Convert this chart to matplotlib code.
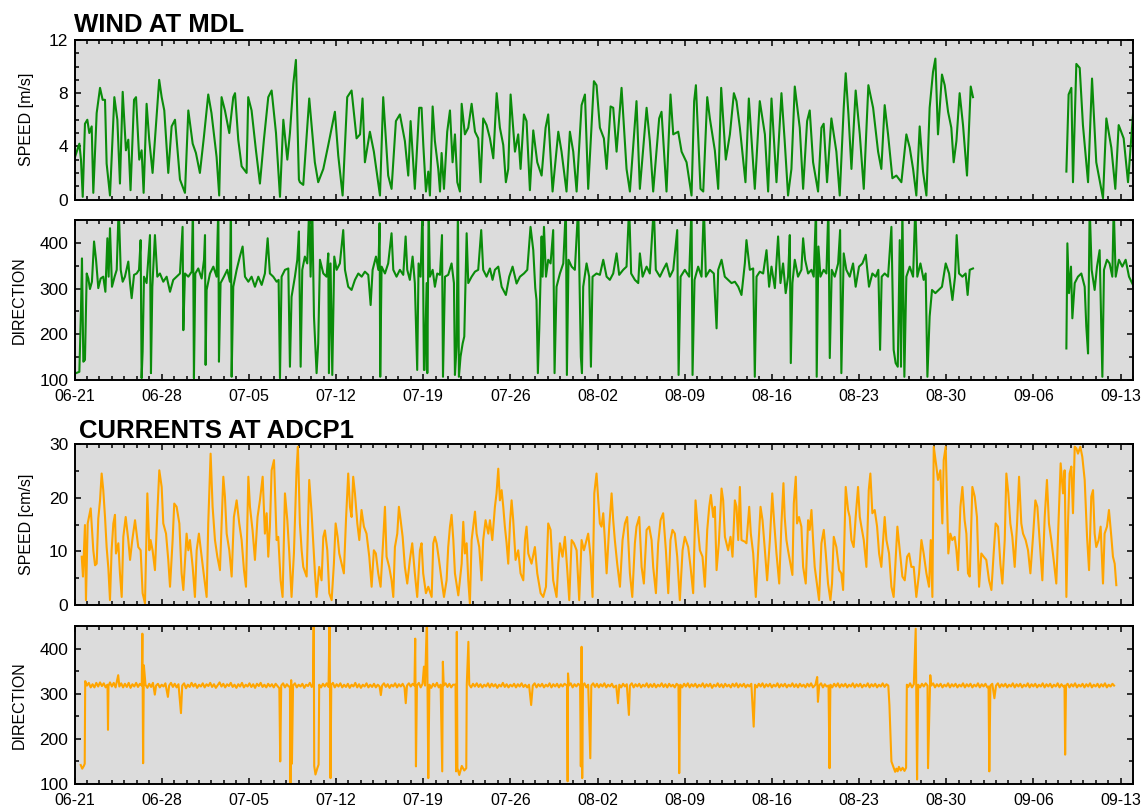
import numpy as np
import matplotlib
matplotlib.use("Agg")
import matplotlib.pyplot as plt
from matplotlib.ticker import MultipleLocator, FixedLocator, FixedFormatter

plt.rcParams['font.family'] = ['Liberation Sans', 'DejaVu Sans']

# ---------------- data (time in days since 06-21 00:00, value) ----------------
tick_days = [0, 7, 14, 21, 28, 35, 42, 49, 56, 63, 70, 77, 84]
tick_labels = ['06-21', '06-28', '07-05', '07-12', '07-19', '07-26', '08-02',
               '08-09', '08-16', '08-23', '08-30', '09-06', '09-13']

NAN = float('nan')

wind_speed = [
    (0.04, 3.2), (0.39, 4.2), (0.52, 3.0), (0.66, 0.2), (0.84, 5.7), (1.03, 6.0), (1.19, 5.0),
    (1.38, 5.5), (1.51, 0.5), (1.78, 6.5), (2.05, 8.4), (2.26, 7.5), (2.45, 7.5), (2.58, 2.7),
    (2.85, 0.3), (3.2, 7.7), (3.44, 6.0), (3.65, 1.2), (3.87, 8.1), (4.13, 3.7), (4.32, 4.5),
    (4.5, 0.7), (4.78, 7.5), (4.94, 7.7), (5.2, 3.0), (5.39, 3.7), (5.55, 0.5), (5.79, 7.2),
    (6.0, 4.5), (6.27, 2.0), (6.46, 4.5), (6.8, 9.0), (7.0, 7.7), (7.21, 6.7), (7.53, 2.0),
    (7.8, 5.5), (8.07, 6.0), (8.47, 1.5), (8.87, 0.5), (9.14, 6.7), (9.49, 4.2), (9.75, 3.5),
    (10.07, 2.0), (10.39, 4.7), (10.74, 7.9), (11.0, 6.5), (11.41, 3.2), (11.62, 0.3), (11.81, 7.7),
    (12.08, 6.7), (12.43, 5.0), (12.75, 7.7), (12.89, 8.0), (13.15, 4.5), (13.42, 2.5), (13.82, 2.0),
    (13.95, 7.7), (14.22, 6.7), (14.57, 3.7), (14.89, 1.2), (15.21, 4.5), (15.56, 7.7), (15.83, 8.2),
    (16.18, 5.0), (16.5, 0.2), (16.77, 6.0), (17.09, 3.0), (17.3, 5.0), (17.57, 8.7), (17.78, 10.5),
    (18.02, 1.5), (18.1, 1.3), (18.37, 1.1), (18.85, 7.6), (19.3, 2.8), (19.57, 1.3), (19.98, 2.3),
    (20.38, 4.1), (20.91, 6.6), (21.18, 3.3), (21.53, 0.3), (21.9, 7.7), (22.25, 8.2), (22.65, 4.6),
    (22.93, 4.9), (23.13, 7.6), (23.32, 2.8), (23.72, 5.1), (24.04, 3.6), (24.53, 0.3), (24.79, 7.7),
    (25.19, 1.8), (25.46, 0.8), (25.81, 5.9), (26.13, 6.4), (26.53, 4.4), (26.8, 1.8), (26.99, 5.9),
    (27.33, 0.8), (27.68, 6.9), (27.87, 6.9), (28.01, 4.1), (28.22, 0.6), (28.41, 2.1), (28.54, 0.3),
    (28.76, 7.0), (28.94, 4.4), (29.21, 2.3), (29.35, 0.6), (29.48, 3.5), (29.67, 0.8), (29.93, 5.1),
    (30.15, 6.7), (30.36, 2.8), (30.55, 4.9), (30.74, 1.3), (30.95, 0.6), (31.09, 7.2), (31.35, 4.9),
    (31.62, 5.4), (31.89, 7.2), (32.16, 5.1), (32.42, 4.6), (32.61, 1.3), (32.82, 6.1), (33.09, 5.6),
    (33.36, 4.6), (33.63, 3.1), (33.9, 8.0), (34.16, 5.4), (34.43, 4.1), (34.64, 1.3), (34.83, 2.3),
    (35.02, 7.9), (35.37, 3.6), (35.63, 4.9), (35.82, 2.3), (36.09, 6.4), (36.3, 5.9), (36.57, 0.7),
    (36.84, 5.2), (37.16, 2.8), (37.51, 1.8), (37.83, 5.4), (38.04, 6.4), (38.39, 0.6), (38.85, 5.1),
    (39.11, 3.6), (39.51, 0.6), (39.78, 5.1), (40.05, 3.6), (40.32, 0.6), (40.72, 7.1), (40.99, 7.9),
    (41.25, 0.8), (41.71, 8.9), (41.92, 8.6), (42.19, 5.4), (42.51, 4.6), (42.73, 2.3), (43.05, 7.0),
    (43.26, 6.9), (43.53, 3.6), (43.93, 8.4), (44.33, 2.3), (44.6, 0.6), (45.13, 7.4), (45.4, 0.8),
    (45.94, 6.9), (46.2, 4.4), (46.47, 0.6), (46.95, 6.1), (47.14, 6.6), (47.54, 0.6), (47.86, 7.9),
    (48.08, 4.9), (48.48, 5.1), (48.75, 3.6), (49.15, 2.8), (49.55, 0.3), (49.76, 7.4), (49.9, 8.6),
    (50.27, 0.8), (50.49, 0.6), (50.81, 7.7), (51.02, 6.1), (51.42, 3.7), (51.69, 0.8), (51.93, 8.4),
    (52.3, 3.0), (52.63, 4.9), (52.95, 8.0), (53.16, 7.4), (53.43, 5.4), (53.88, 1.3), (54.15, 7.6),
    (54.63, 0.8), (55.03, 7.4), (55.44, 4.9), (55.7, 0.6), (55.97, 7.6), (56.37, 1.3), (56.77, 8.0),
    (57.03, 4.4), (57.3, 0.3), (57.57, 2.3), (57.84, 8.5), (58.24, 5.4), (58.51, 0.8), (58.83, 5.9),
    (59.04, 6.7), (59.31, 2.8), (59.71, 0.6), (59.98, 5.4), (60.16, 5.7), (60.43, 1.3), (60.78, 6.1),
    (61.18, 3.6), (61.45, 0.3), (61.77, 6.9), (61.93, 9.5), (62.15, 6.4), (62.39, 2.3), (62.73, 8.2),
    (63.06, 4.9), (63.38, 0.8), (63.75, 8.6), (64.13, 6.9), (64.53, 3.6), (64.79, 2.3), (65.06, 7.1),
    (65.33, 4.9), (65.68, 1.6), (66.0, 1.8), (66.4, 1.3), (66.8, 4.9), (67.07, 3.9), (67.34, 2.3),
    (67.6, 0.3), (67.87, 5.5), (68.14, 2.1), (68.41, 0.3), (68.67, 6.9), (68.94, 9.6), (69.13, 10.6),
    (69.34, 4.9), (69.66, 9.4), (69.88, 8.6), (70.15, 6.6), (70.41, 5.4), (70.6, 2.8), (70.82, 4.4),
    (71.08, 8.0), (71.35, 5.6), (71.67, 1.8), (71.97, 8.5), (72.15, 7.7), (75.0, NAN),
    (79.65, 2.1), (79.83, 7.9), (80.05, 8.4), (80.18, 1.3), (80.45, 10.2), (80.72, 9.9), (80.98, 5.6),
    (81.39, 1.3), (81.71, 9.1), (82.05, 2.8), (82.59, 0.1), (82.86, 6.1), (83.26, 3.9), (83.58, 0.8),
    (83.85, 5.6), (84.25, 4.6), (84.6, 1.3), (85.0, 6.4),
]

wind_dir = [
    (0.12, 115), (0.39, 118), (0.52, 253), (0.6, 366), (0.71, 140), (0.84, 144), (0.98, 333),
    (1.11, 322), (1.24, 299), (1.4, 315), (1.57, 403), (1.73, 363), (1.91, 301), (2.1, 322),
    (2.31, 326), (2.48, 293), (2.64, 410), (2.74, 326), (2.85, 432), (3.01, 304), (3.22, 326),
    (3.39, 341), (3.55, 480), (3.71, 341), (3.87, 315), (4.05, 326), (4.32, 359), (4.46, 312),
    (4.59, 279), (4.78, 330), (4.99, 333), (5.18, 341), (5.31, 406), (5.39, 104), (5.47, 162),
    (5.58, 326), (5.79, 312), (6.06, 417), (6.14, 115), (6.25, 304), (6.46, 417), (6.65, 326),
    (6.86, 333), (7.13, 315), (7.4, 326), (7.67, 293), (7.93, 319), (8.2, 326), (8.47, 333),
    (8.68, 435), (8.74, 209), (8.87, 333), (9.14, 326), (9.41, 337), (9.51, 480), (9.59, 104),
    (9.7, 333), (9.94, 344), (10.21, 322), (10.4, 363), (10.48, 417), (10.53, 133), (10.61, 297),
    (10.88, 333), (11.15, 348), (11.41, 326), (11.55, 480), (11.6, 140), (11.73, 312), (12.0, 326),
    (12.27, 341), (12.48, 315), (12.56, 480), (12.62, 107), (12.75, 304), (13.02, 341), (13.28, 370),
    (13.5, 392), (13.69, 326), (13.96, 315), (14.22, 326), (14.49, 304), (14.76, 326), (15.03, 308),
    (15.29, 333), (15.51, 410), (15.69, 333), (15.96, 326), (16.23, 315), (16.39, 319), (16.5, 104),
    (16.63, 326), (16.9, 341), (17.17, 344), (17.3, 129), (17.43, 282), (17.7, 326), (17.89, 363),
    (18.02, 425), (18.16, 129), (18.29, 341), (18.5, 370), (18.69, 355), (18.85, 480), (18.96, 326),
    (19.09, 480), (19.23, 239), (19.33, 180), (19.44, 115), (19.57, 180), (19.71, 363), (19.98, 333),
    (20.24, 326), (20.38, 377), (20.43, 115), (20.56, 355), (20.7, 111), (20.86, 370), (21.05, 341),
    (21.31, 355), (21.58, 428), (21.72, 341), (21.98, 304), (22.25, 297), (22.52, 319), (22.79, 333),
    (23.06, 326), (23.32, 337), (23.59, 330), (23.78, 264), (23.94, 341), (24.21, 370), (24.4, 341),
    (24.5, 443), (24.55, 107), (24.66, 348), (24.93, 333), (25.19, 355), (25.46, 421), (25.6, 341),
    (25.86, 326), (26.13, 341), (26.4, 330), (26.59, 414), (26.72, 341), (26.93, 319), (27.15, 370),
    (27.33, 312), (27.52, 122), (27.63, 355), (27.79, 326), (27.95, 480), (28.06, 122),
    (28.11, 122), (28.28, 312), (28.33, 115), (28.44, 480), (28.54, 326), (28.76, 341), (28.94, 304),
    (29.13, 333), (29.35, 330), (29.51, 417), (29.59, 107), (29.75, 326), (30.01, 330), (30.28, 355),
    (30.47, 312), (30.55, 111), (30.68, 173), (30.79, 480), (30.87, 107), (31.0, 151), (31.17, 180),
    (31.3, 195), (31.49, 421), (31.62, 312), (31.89, 326), (32.16, 337), (32.42, 341), (32.66, 428),
    (32.82, 341), (33.09, 326), (33.36, 344), (33.57, 319), (33.76, 341), (34.03, 348), (34.3, 304),
    (34.64, 286), (34.91, 326), (35.18, 348), (35.5, 311), (35.77, 326), (36.09, 333), (36.36, 341),
    (36.62, 435), (36.84, 384), (37.0, 301), (37.1, 275), (37.21, 115), (37.32, 209), (37.51, 414),
    (37.59, 326), (37.7, 435), (37.86, 326), (38.04, 363), (38.23, 355), (38.44, 428), (38.55, 115),
    (38.71, 304), (38.98, 333), (39.25, 355), (39.46, 480), (39.54, 111), (39.67, 363), (39.92, 348),
    (40.18, 341), (40.45, 480), (40.66, 151), (40.75, 115), (40.85, 304), (41.12, 355), (41.33, 326),
    (41.47, 129), (41.6, 326), (41.92, 333), (42.19, 330), (42.46, 363), (42.73, 326), (42.99, 319),
    (43.26, 333), (43.53, 377), (43.74, 330), (44.06, 341), (44.33, 348), (44.54, 480), (44.7, 333),
    (45.0, 319), (45.27, 312), (45.4, 377), (45.62, 326), (45.94, 348), (46.2, 333), (46.52, 480),
    (46.68, 341), (47.01, 326), (47.27, 341), (47.54, 355), (47.81, 326), (48.08, 341), (48.4, 428),
    (48.51, 111), (48.67, 326), (49.01, 341), (49.36, 326), (49.55, 480), (49.63, 111), (49.79, 319),
    (50.08, 348), (50.35, 326), (50.54, 480), (50.7, 326), (51.02, 341), (51.34, 333), (51.56, 213),
    (51.69, 341), (51.96, 363), (52.22, 326), (52.49, 319), (52.76, 312), (53.03, 315), (53.3, 304),
    (53.56, 286), (53.83, 355), (53.96, 406), (54.23, 341), (54.5, 344), (54.63, 107), (54.77, 326),
    (55.03, 337), (55.3, 333), (55.57, 384), (55.78, 304), (55.97, 348), (56.24, 301),
    (56.5, 414), (56.69, 312), (56.9, 355), (57.11, 290), (57.3, 326), (57.44, 417), (57.52, 137),
    (57.65, 312), (57.84, 363), (58.1, 326), (58.37, 341), (58.51, 410), (58.67, 363), (58.91, 333),
    (59.18, 341), (59.36, 326), (59.55, 480), (59.6, 107), (59.74, 392), (59.9, 326), (60.16, 341),
    (60.38, 333), (60.54, 480), (60.65, 148), (60.81, 341), (61.05, 326), (61.32, 355), (61.48, 428),
    (61.58, 115), (61.77, 377), (61.98, 341), (62.25, 326), (62.52, 355), (62.73, 304), (63.0, 348),
    (63.27, 355), (63.54, 374), (63.8, 304), (64.07, 333), (64.34, 326), (64.55, 341), (64.69, 166),
    (64.82, 326), (65.06, 333), (65.33, 326), (65.6, 435), (65.78, 166), (65.94, 137), (66.11, 129),
    (66.27, 406), (66.37, 129), (66.48, 480), (66.64, 107), (66.8, 326), (67.07, 348), (67.34, 326),
    (67.52, 480), (67.68, 326), (67.93, 355), (68.19, 319), (68.35, 333), (68.49, 107), (68.67, 239),
    (68.86, 297), (69.13, 290), (69.4, 297), (69.66, 304), (69.96, 355), (70.23, 333), (70.5, 275),
    (70.71, 326), (70.84, 417), (71.03, 333), (71.3, 326), (71.56, 333), (71.72, 286), (71.89, 341),
    (72.15, 344), (75.0, NAN),
    (79.65, 169), (79.73, 399), (79.86, 290), (80.02, 348), (80.13, 235), (80.32, 312), (80.58, 326),
    (80.85, 333), (81.12, 304), (81.25, 217), (81.39, 158), (81.52, 480), (81.68, 341), (81.92, 297),
    (82.11, 348), (82.32, 384), (82.54, 107), (82.67, 341), (82.91, 363), (83.12, 355), (83.34, 326),
    (83.45, 480), (83.61, 326), (83.87, 363), (84.14, 348), (84.41, 363), (84.68, 326), (85.0, 308),
]

current_speed = [
    (0.58, 9.0), (0.68, 5.3), (0.84, 14.9), (0.92, 0.9), (1.06, 15.2), (1.3, 18.0), (1.51, 10.2),
    (1.65, 7.4), (1.78, 7.7), (1.91, 16.1), (2.05, 19.5), (2.18, 24.5), (2.31, 21.4), (2.45, 16.4),
    (2.58, 10.8), (2.72, 6.8), (2.85, 0.9), (2.98, 10.2), (3.12, 15.2), (3.25, 16.8), (3.33, 9.6),
    (3.52, 11.5), (3.65, 5.9), (3.79, 1.5), (3.92, 12.7), (4.11, 16.4), (4.32, 12.1), (4.46, 8.4),
    (4.64, 12.1), (4.86, 15.8), (4.99, 13.3), (5.12, 10.8), (5.31, 10.2), (5.47, 2.2), (5.66, 0.3),
    (5.85, 20.8), (6.01, 10.2), (6.11, 12.1), (6.27, 10.2), (6.46, 6.5), (6.65, 17.1), (6.81, 25.1),
    (7.0, 22.0), (7.13, 15.2), (7.35, 13.3), (7.53, 8.4), (7.67, 3.4), (7.88, 12.1), (8.01, 18.9),
    (8.2, 18.3), (8.42, 15.2), (8.6, 5.9), (8.74, 2.8), (9.0, 13.3), (9.14, 10.2), (9.27, 12.1),
    (9.49, 7.1), (9.67, 1.5), (9.81, 10.2), (9.99, 13.3), (10.15, 10.2), (10.34, 6.5), (10.61, 1.5),
    (10.74, 15.2), (10.93, 28.2), (11.09, 18.3), (11.28, 12.1), (11.47, 9.0), (11.68, 6.5),
    (11.95, 23.9), (12.08, 20.2), (12.22, 13.3), (12.43, 10.2), (12.62, 5.3), (12.8, 16.4),
    (13.02, 19.5), (13.23, 15.2), (13.42, 12.1), (13.61, 6.5), (13.77, 3.4), (13.96, 23.9),
    (14.09, 18.3), (14.3, 13.9), (14.49, 8.4), (14.7, 16.4), (14.89, 19.5), (15.11, 23.9),
    (15.29, 13.3), (15.43, 17.1), (15.56, 9.0), (15.69, 14.6), (15.83, 25.1), (16.02, 27.0),
    (16.23, 12.1), (16.36, 12.7), (16.55, 4.6), (16.71, 1.5), (16.9, 20.8), (17.09, 15.8),
    (17.25, 9.6), (17.43, 1.5), (17.62, 9.6), (17.83, 25.1), (17.94, 29.5), (18.1, 15.2),
    (18.24, 10.2), (18.37, 7.1), (18.64, 5.3), (18.85, 23.3), (19.04, 17.1), (19.31, 5.9),
    (19.44, 1.5), (19.65, 7.1), (19.84, 4.6), (19.98, 12.7), (20.11, 13.9), (20.3, 10.2),
    (20.46, 2.2), (20.65, 0.9), (20.83, 7.7), (20.97, 15.2), (21.13, 12.7), (21.26, 9.6),
    (21.45, 7.7), (21.63, 5.9), (21.8, 15.8), (21.98, 24.5), (22.12, 18.3), (22.25, 16.4),
    (22.38, 23.9), (22.52, 20.8), (22.71, 15.2), (22.87, 12.1), (23.05, 17.7), (23.24, 14.6),
    (23.45, 13.3), (23.67, 9.0), (23.86, 3.4), (24.04, 10.2), (24.2, 9.6), (24.39, 5.9),
    (24.58, 3.4), (24.79, 12.1), (24.93, 18.3), (25.06, 9.0), (25.27, 7.1), (25.46, 4.6),
    (25.6, 1.5), (25.73, 10.8), (25.92, 13.3), (26.05, 18.3), (26.19, 15.8), (26.35, 12.7),
    (26.53, 7.1), (26.72, 4.0), (26.93, 8.4), (27.12, 11.5), (27.33, 5.9), (27.52, 1.5),
    (27.74, 10.2), (27.87, 11.5), (28.0, 5.9), (28.22, 2.2), (28.41, 3.4), (28.68, 1.5),
    (28.81, 11.5), (28.94, 12.7), (29.08, 11.5), (29.27, 8.4), (29.48, 4.6), (29.67, 1.5),
    (29.88, 4.6), (30.01, 10.8), (30.15, 14.6), (30.28, 16.8), (30.42, 12.1), (30.55, 5.9),
    (30.82, 1.8), (31.09, 7.7), (31.22, 15.5), (31.35, 9.6), (31.49, 11.5), (31.62, 4.6),
    (31.75, 0.3), (31.89, 12.1), (32.02, 14.6), (32.16, 17.4), (32.29, 13.3), (32.5, 10.8),
    (32.69, 4.6), (32.82, 12.1), (33.01, 15.8), (33.23, 13.3), (33.36, 15.8), (33.55, 12.1),
    (33.76, 18.3), (33.89, 20.8), (34.03, 25.4), (34.16, 19.5), (34.3, 21.4), (34.43, 18.3),
    (34.56, 14.6), (34.7, 11.5), (34.83, 7.7), (34.97, 15.2), (35.1, 19.5), (35.23, 15.8),
    (35.42, 8.4), (35.63, 10.2), (35.82, 5.9), (36.04, 4.6), (36.17, 12.1), (36.3, 14.6),
    (36.44, 9.6), (36.7, 7.7), (36.97, 10.8), (37.16, 5.9), (37.43, 2.2), (37.64, 1.5),
    (37.86, 3.4), (38.04, 15.2), (38.23, 14.0), (38.44, 4.6), (38.71, 1.5), (38.85, 7.7),
    (38.98, 11.5), (39.19, 9.0), (39.38, 12.7), (39.57, 6.5), (39.73, 0.9), (39.92, 12.1),
    (40.1, 11.5), (40.32, 10.2), (40.53, 0.9), (40.72, 12.1), (40.91, 10.2), (41.25, 13.3),
    (41.44, 9.0), (41.6, 1.5), (41.74, 20.8), (41.92, 24.5), (42.06, 19.5), (42.19, 15.2),
    (42.32, 14.6), (42.46, 17.1), (42.59, 12.1), (42.73, 5.9), (42.94, 14.6), (43.13, 20.8),
    (43.26, 15.8), (43.39, 12.1), (43.58, 7.7), (43.8, 3.4), (44.01, 12.1), (44.2, 15.2),
    (44.38, 16.4), (44.6, 5.9), (44.79, 1.5), (45.0, 11.5), (45.13, 14.6), (45.35, 16.4),
    (45.54, 7.1), (45.72, 4.0), (45.94, 14.0), (46.15, 14.6), (46.34, 12.1), (46.47, 7.1),
    (46.69, 2.2), (46.87, 11.5), (47.06, 15.8), (47.27, 17.1), (47.49, 10.2), (47.68, 2.2),
    (47.86, 12.1), (48.02, 14.0), (48.21, 13.3), (48.4, 9.0), (48.61, 0.9), (48.83, 10.2),
    (49.01, 12.7), (49.28, 10.8), (49.47, 7.1), (49.68, 2.2), (49.87, 19.5), (50.0, 15.8),
    (50.22, 10.2), (50.43, 9.0), (50.62, 3.4), (50.81, 14.0), (50.97, 18.3), (51.1, 20.5),
    (51.29, 16.4), (51.42, 18.3), (51.56, 6.5), (51.74, 11.5), (51.96, 21.7), (52.09, 19.5),
    (52.23, 12.7), (52.49, 10.2), (52.68, 12.7), (52.84, 9.0), (53.03, 19.5), (53.16, 18.3),
    (53.3, 12.1), (53.43, 22.0), (53.56, 12.1), (53.83, 11.8), (53.96, 11.5), (54.18, 18.3),
    (54.31, 13.3), (54.5, 9.6), (54.71, 1.5), (54.9, 10.2), (55.09, 18.3), (55.25, 15.8),
    (55.44, 10.2), (55.62, 4.6), (55.84, 12.1), (56.03, 20.8), (56.19, 15.2), (56.37, 9.6),
    (56.59, 4.0), (56.77, 15.2), (56.93, 22.7), (57.03, 16.4), (57.17, 12.1), (57.3, 10.2),
    (57.44, 8.4), (57.65, 5.6), (57.76, 18.9), (57.92, 23.9), (58.02, 15.2), (58.18, 16.4),
    (58.37, 14.6), (58.51, 7.1), (58.72, 4.0), (58.91, 15.8), (59.04, 14.0), (59.18, 17.7),
    (59.31, 12.1), (59.44, 7.1), (59.58, 4.6), (59.79, 0.9), (59.98, 11.5), (60.17, 14.0),
    (60.33, 9.6), (60.51, 4.0), (60.7, 0.9), (60.83, 4.0), (60.97, 12.7), (61.18, 10.8),
    (61.4, 6.5), (61.58, 5.9), (61.72, 2.8), (61.93, 22.0), (62.12, 17.7), (62.25, 16.4),
    (62.39, 12.1), (62.57, 10.8), (62.73, 16.4), (62.92, 22.0), (63.06, 16.4), (63.19, 14.6),
    (63.38, 12.1), (63.59, 7.1), (63.78, 21.4), (63.91, 24.5), (64.07, 17.1), (64.26, 17.7),
    (64.45, 14.6), (64.61, 9.6), (64.79, 7.1), (65.06, 16.4), (65.2, 12.1), (65.41, 9.6),
    (65.6, 3.4), (65.78, 1.5), (65.95, 9.0), (66.08, 14.6), (66.27, 10.2), (66.48, 5.3),
    (66.67, 4.6), (66.86, 9.0), (67.02, 9.6), (67.2, 7.1), (67.39, 7.1), (67.6, 1.5), (67.82, 5.9),
    (68.01, 12.1), (68.19, 9.6), (68.41, 5.9), (68.62, 3.4), (68.76, 12.1), (68.89, 1.5),
    (69.0, 29.5), (69.21, 25.8), (69.34, 23.3), (69.53, 25.1), (69.69, 15.2), (69.8, 27.0),
    (69.96, 29.5), (70.07, 18.9), (70.17, 9.6), (70.33, 13.3), (70.49, 12.1), (70.68, 12.7),
    (70.82, 10.2), (70.95, 6.5), (71.14, 18.3), (71.3, 22.0), (71.48, 15.8), (71.62, 13.3),
    (71.75, 5.9), (71.89, 5.3), (72.1, 22.0), (72.29, 20.2), (72.47, 16.4), (72.64, 3.4),
    (72.82, 9.6), (73.01, 9.0), (73.22, 8.4), (73.44, 4.6), (73.63, 2.8), (73.81, 9.6),
    (73.97, 15.2), (74.16, 14.6), (74.35, 7.7), (74.51, 4.0), (74.7, 12.1), (74.83, 24.5),
    (74.99, 20.8), (75.15, 15.2), (75.31, 12.7), (75.5, 7.1), (75.69, 15.2), (75.85, 23.9),
    (76.03, 15.2), (76.17, 13.3), (76.38, 12.1), (76.57, 10.2), (76.76, 5.9), (76.97, 12.7),
    (77.16, 19.5), (77.32, 18.3), (77.5, 12.1), (77.72, 4.6), (77.91, 16.4), (78.09, 23.3),
    (78.25, 15.2), (78.44, 12.1), (78.63, 8.4), (78.84, 4.0), (79.06, 18.3), (79.19, 26.4),
    (79.38, 20.8), (79.51, 25.1), (79.65, 1.5), (79.78, 15.2), (79.91, 24.5), (80.05, 25.8),
    (80.18, 17.1), (80.32, 29.5), (80.45, 29.2), (80.58, 28.2), (80.77, 29.5), (80.93, 27.6),
    (81.12, 23.3), (81.31, 12.7), (81.47, 6.5), (81.65, 20.2), (81.79, 21.4), (81.92, 13.3),
    (82.05, 10.8), (82.24, 12.1), (82.4, 14.6), (82.59, 4.0), (82.72, 13.3), (82.91, 14.6),
    (83.07, 17.7), (83.26, 12.7), (83.39, 9.0), (83.53, 7.7), (83.66, 3.7),
]

current_dir = [
    (0.5, 142), (0.62, 134), (0.75, 140), (0.82, 145), (0.86, 328), (1.0, 318), (1.15, 324),
    (1.3, 314), (1.45, 321), (1.6, 314), (1.75, 324), (1.9, 316), (2.05, 325), (2.2, 317),
    (2.35, 323), (2.5, 314), (2.65, 320), (2.69, 220), (2.73, 317), (2.85, 325), (3.0, 316),
    (3.15, 324), (3.3, 314), (3.51, 341), (3.6, 316), (3.75, 323), (3.9, 314), (4.05, 322),
    (4.2, 315), (4.35, 324), (4.5, 313), (4.65, 321), (4.8, 316), (4.95, 324), (5.1, 315),
    (5.25, 322), (5.4, 318), (5.45, 433), (5.51, 146), (5.57, 363), (5.7, 320), (5.85, 313),
    (6.0, 322), (6.15, 315), (6.3, 324), (6.45, 298), (6.55, 318), (6.7, 322), (6.85, 314),
    (7.0, 320), (7.15, 316), (7.3, 323), (7.5, 293), (7.6, 318), (7.75, 324), (7.9, 315),
    (8.05, 322), (8.2, 314), (8.35, 321), (8.55, 257), (8.65, 318), (8.8, 323), (8.95, 312),
    (9.1, 320), (9.25, 315), (9.4, 324), (9.55, 316), (9.7, 322), (9.85, 313), (10.0, 320),
    (10.15, 316), (10.3, 323), (10.45, 314), (10.6, 321), (10.75, 317), (10.9, 324), (11.05, 315),
    (11.2, 321), (11.35, 313), (11.5, 319), (11.65, 325), (11.8, 316), (11.95, 322), (12.1, 314),
    (12.25, 321), (12.4, 317), (12.55, 324), (12.7, 315), (12.85, 320), (13.0, 313), (13.15, 321),
    (13.3, 316), (13.45, 324), (13.6, 314), (13.75, 320), (13.9, 316), (14.05, 323), (14.2, 315),
    (14.35, 321), (14.5, 313), (14.65, 322), (14.8, 317), (14.95, 324), (15.1, 315), (15.25, 320),
    (15.4, 314), (15.55, 322), (15.7, 316), (15.85, 321), (16.0, 314), (16.15, 322), (16.3, 317),
    (16.45, 312), (16.52, 150), (16.6, 318), (16.75, 323), (16.9, 314), (17.05, 321), (17.2, 316),
    (17.3, 316), (17.34, 102), (17.4, 330), (17.46, 145), (17.55, 318), (17.7, 323), (17.85, 314),
    (18.0, 320), (18.15, 316), (18.3, 322), (18.45, 313), (18.6, 320), (18.75, 317), (18.9, 324),
    (19.05, 315), (19.15, 320), (19.21, 470), (19.25, 140), (19.35, 121), (19.5, 135), (19.6, 143),
    (19.65, 320), (19.8, 314), (19.95, 322), (20.1, 316), (20.25, 323), (20.4, 315),
    (20.48, 470), (20.56, 113), (20.62, 320), (20.75, 324), (20.9, 314), (21.05, 321), (21.2, 316),
    (21.35, 323), (21.5, 314), (21.65, 320), (21.8, 315), (21.95, 322), (22.1, 313), (22.25, 320),
    (22.4, 316), (22.55, 324), (22.7, 314), (22.85, 321), (23.0, 313), (23.15, 320), (23.3, 316),
    (23.45, 323), (23.6, 314), (23.75, 320), (23.9, 315), (24.05, 322), (24.2, 314), (24.35, 320),
    (24.5, 316), (24.6, 297), (24.7, 318), (24.85, 323), (25.0, 315), (25.15, 321), (25.3, 313),
    (25.45, 320), (25.6, 316), (25.75, 323), (25.9, 314), (26.05, 321), (26.2, 316), (26.35, 322),
    (26.5, 314), (26.6, 279), (26.7, 318), (26.85, 323), (27.0, 316), (27.15, 322), (27.3, 318),
    (27.36, 422), (27.42, 139), (27.5, 318), (27.65, 324), (27.8, 314), (27.95, 322),
    (28.06, 360), (28.15, 318), (28.3, 470), (28.35, 318), (28.41, 113), (28.5, 320), (28.65, 313),
    (28.8, 322), (28.95, 316), (29.1, 324), (29.25, 314), (29.4, 320), (29.53, 128), (29.58, 371),
    (29.65, 318), (29.8, 323), (29.95, 315), (30.1, 322), (30.25, 314), (30.4, 320), (30.6, 320),
    (30.64, 128), (30.7, 437), (30.75, 135), (30.9, 120), (31.1, 140), (31.3, 130), (31.46, 135),
    (31.5, 320), (31.63, 415), (31.7, 320), (31.85, 314), (32.0, 322), (32.15, 316), (32.3, 323),
    (32.45, 315), (32.6, 321), (32.75, 314), (32.9, 320), (33.05, 316), (33.2, 323), (33.35, 314),
    (33.5, 322), (33.65, 316), (33.8, 321), (33.95, 313), (34.1, 320), (34.25, 316), (34.4, 324),
    (34.55, 315), (34.7, 321), (34.85, 314), (35.0, 320), (35.15, 316), (35.3, 322), (35.45, 314),
    (35.6, 321), (35.75, 316), (35.9, 323), (36.05, 315), (36.2, 320), (36.35, 314), (36.5, 320),
    (36.67, 275), (36.8, 318), (36.95, 323), (37.1, 314), (37.25, 321), (37.4, 316), (37.55, 322),
    (37.7, 314), (37.85, 320), (38.0, 316), (38.15, 323), (38.3, 314), (38.45, 321), (38.6, 316),
    (38.75, 322), (38.9, 314), (39.05, 321), (39.2, 316), (39.35, 322), (39.55, 318), (39.6, 106),
    (39.63, 345), (39.7, 318), (39.85, 323), (40.0, 314), (40.15, 321), (40.3, 316), (40.45, 322),
    (40.6, 318), (40.66, 139), (40.72, 404), (40.77, 113), (40.83, 318), (40.95, 323), (41.1, 314),
    (41.25, 320), (41.42, 157), (41.5, 318), (41.65, 323), (41.8, 315), (41.95, 322), (42.1, 314),
    (42.25, 321), (42.4, 316), (42.55, 323), (42.7, 314), (42.85, 320), (43.0, 316), (43.15, 322),
    (43.3, 314), (43.5, 318), (43.64, 279), (43.75, 320), (43.9, 314), (44.05, 322), (44.2, 316),
    (44.35, 321), (44.52, 253), (44.6, 318), (44.75, 323), (44.9, 314), (45.05, 321), (45.2, 316),
    (45.35, 322), (45.5, 314), (45.65, 320), (45.8, 316), (45.95, 323), (46.1, 314), (46.25, 321),
    (46.4, 315), (46.55, 322), (46.7, 314), (46.85, 320), (47.0, 316), (47.15, 323), (47.3, 315),
    (47.45, 321), (47.6, 314), (47.75, 322), (47.9, 316), (48.05, 320), (48.2, 314), (48.35, 322),
    (48.5, 318), (48.56, 124), (48.65, 320), (48.8, 314), (48.95, 322), (49.1, 316), (49.25, 323),
    (49.4, 314), (49.55, 321), (49.7, 316), (49.85, 322), (50.0, 314), (50.15, 320), (50.3, 316),
    (50.45, 323), (50.6, 314), (50.75, 321), (50.9, 316), (51.05, 322), (51.2, 313), (51.35, 320),
    (51.5, 316), (51.65, 323), (51.8, 315), (51.95, 321), (52.1, 314), (52.25, 322), (52.4, 316),
    (52.55, 320), (52.7, 314), (52.85, 322), (53.0, 316), (53.15, 323), (53.3, 314), (53.45, 321),
    (53.6, 316), (53.75, 322), (53.9, 314), (54.05, 320), (54.2, 316), (54.35, 322), (54.54, 227),
    (54.65, 320), (54.8, 314), (54.95, 322), (55.1, 316), (55.25, 323), (55.4, 314), (55.55, 321),
    (55.7, 316), (55.85, 322), (56.0, 314), (56.15, 320), (56.3, 316), (56.45, 323), (56.6, 314),
    (56.75, 321), (56.9, 316), (57.05, 322), (57.2, 314), (57.35, 320), (57.5, 316), (57.65, 323),
    (57.8, 315), (57.95, 321), (58.1, 314), (58.25, 322), (58.4, 316), (58.55, 320), (58.7, 314),
    (58.85, 322), (59.0, 316), (59.15, 323), (59.3, 314), (59.5, 320), (59.64, 337), (59.7, 282),
    (59.8, 318), (59.95, 323), (60.1, 314), (60.25, 321), (60.4, 316), (60.55, 318), (60.63, 135),
    (60.7, 320), (60.85, 314), (61.0, 322), (61.15, 316), (61.3, 323), (61.45, 314), (61.6, 321),
    (61.75, 316), (61.9, 322), (62.05, 314), (62.2, 320), (62.35, 316), (62.5, 323), (62.65, 314),
    (62.8, 321), (62.95, 316), (63.1, 322), (63.25, 314), (63.4, 320), (63.55, 316), (63.7, 323),
    (63.85, 314), (64.0, 321), (64.15, 316), (64.3, 322), (64.45, 314), (64.6, 320), (64.75, 316),
    (64.9, 323), (65.05, 315), (65.2, 321), (65.35, 318), (65.44, 275), (65.6, 150), (65.79, 135),
    (65.9, 127), (66.0, 134), (66.1, 128), (66.2, 138), (66.35, 130), (66.5, 136), (66.65, 129),
    (66.78, 136), (66.84, 320), (66.95, 315), (67.1, 323), (67.25, 314), (67.4, 321),
    (67.55, 444), (67.66, 110), (67.75, 320), (67.9, 314), (68.05, 322), (68.2, 316), (68.35, 323),
    (68.5, 318), (68.54, 135), (68.72, 341), (68.8, 318), (68.95, 323), (69.1, 314), (69.25, 321),
    (69.4, 316), (69.55, 322), (69.7, 314), (69.85, 320), (70.0, 316), (70.15, 323), (70.3, 314),
    (70.45, 321), (70.6, 316), (70.75, 322), (70.9, 314), (71.05, 320), (71.2, 316), (71.35, 323),
    (71.5, 314), (71.65, 321), (71.8, 316), (71.95, 322), (72.1, 314), (72.25, 320), (72.4, 316),
    (72.55, 323), (72.7, 314), (72.85, 321), (73.0, 316), (73.15, 322), (73.3, 314), (73.4, 316),
    (73.46, 128), (73.55, 318), (73.7, 322), (73.87, 290), (74.0, 318), (74.15, 323), (74.3, 314),
    (74.45, 321), (74.6, 316), (74.75, 322), (74.9, 314), (75.05, 320), (75.2, 316), (75.35, 323),
    (75.5, 314), (75.65, 321), (75.8, 316), (75.95, 322), (76.1, 314), (76.25, 320), (76.4, 316),
    (76.55, 323), (76.7, 314), (76.85, 321), (77.0, 316), (77.15, 322), (77.3, 314), (77.45, 320),
    (77.6, 316), (77.75, 323), (77.9, 314), (78.05, 321), (78.2, 316), (78.35, 322), (78.5, 314),
    (78.65, 320), (78.8, 316), (78.95, 323), (79.1, 314), (79.25, 321), (79.4, 316), (79.5, 318),
    (79.55, 165), (79.62, 318), (79.75, 322), (79.9, 314), (80.05, 321), (80.2, 316), (80.35, 323),
    (80.5, 314), (80.65, 320), (80.8, 316), (80.95, 322), (81.1, 314), (81.25, 321), (81.4, 316),
    (81.55, 323), (81.7, 314), (81.85, 320), (82.0, 316), (82.15, 322), (82.3, 314), (82.45, 321),
    (82.6, 316), (82.75, 323), (82.9, 314), (83.05, 320), (83.2, 316), (83.35, 322), (83.48, 318),
]

GREEN = '#0a8c0a'
ORANGE = '#ffa500'
BG = '#dcdcdc'

# ---------------- figure ----------------
W, H = 1143, 810
fig = plt.figure(figsize=(W / 100, H / 100), dpi=100)
LEFT, RIGHT = 74.5, 1133


def make_ax(top, bottom):
    return fig.add_axes([LEFT / W, 1 - bottom / H, (RIGHT - LEFT) / W, (bottom - top) / H])


panels = [
    (make_ax(40, 199.5), wind_speed, GREEN, (0, 12), 4, 1, False),
    (make_ax(220, 380), wind_dir, GREEN, (100, 450), 100, 50, True),
    (make_ax(444, 605), current_speed, ORANGE, (0, 30), 10, 5, False),
    (make_ax(626, 784), current_dir, ORANGE, (100, 450), 100, 50, True),
]

for ax, series, color, ylim, ymaj, ymin, xlab in panels:
    arr = np.array(series, dtype=float)
    ax.plot(arr[:, 0], arr[:, 1], color=color, lw=1.5)
    ax.set_facecolor(BG)
    ax.set_xlim(0, 85)
    ax.set_ylim(*ylim)
    ax.xaxis.set_major_locator(FixedLocator(tick_days))
    ax.xaxis.set_minor_locator(MultipleLocator(1))
    if xlab:
        ax.xaxis.set_major_formatter(FixedFormatter(tick_labels))
    else:
        ax.set_xticklabels([])
    ax.yaxis.set_major_locator(MultipleLocator(ymaj))
    ax.yaxis.set_minor_locator(MultipleLocator(ymin))
    ax.tick_params(which='both', direction='in', top=True, right=True, width=1.1, colors='black')
    ax.tick_params(which='major', length=4.5)
    ax.tick_params(which='minor', length=2.6)
    ax.tick_params(axis='y', which='major', labelsize=12.5, pad=4.5)
    ax.tick_params(axis='x', which='major', labelsize=11.5, pad=6.5)
    for sp in ax.spines.values():
        sp.set_linewidth(1.4)
        sp.set_color('black')

ax1, ax2, ax3, ax4 = [p[0] for p in panels]

ax1.annotate('WIND AT MDL', xy=(0, 1), xycoords='axes fraction', xytext=(0, 5.6),
             textcoords='offset points', ha='left', va='baseline',
             fontsize=18.5, fontweight='bold')
ax3.annotate('CURRENTS AT ADCP1', xy=(0, 1), xycoords='axes fraction', xytext=(3.5, 4.2),
             textcoords='offset points', ha='left', va='baseline',
             fontsize=18.5, fontweight='bold')

fig.text(26 / W, 1 - 119.75 / H, 'SPEED [m/s]', rotation=90, ha='center', va='center', fontsize=11.5)
fig.text(19 / W, 1 - 300 / H, 'DIRECTION', rotation=90, ha='center', va='center', fontsize=11.5)
fig.text(26 / W, 1 - 524.5 / H, 'SPEED [cm/s]', rotation=90, ha='center', va='center', fontsize=11.5)
fig.text(19 / W, 1 - 705 / H, 'DIRECTION', rotation=90, ha='center', va='center', fontsize=11.5)

fig.savefig('out.png', dpi=100, facecolor='white')
